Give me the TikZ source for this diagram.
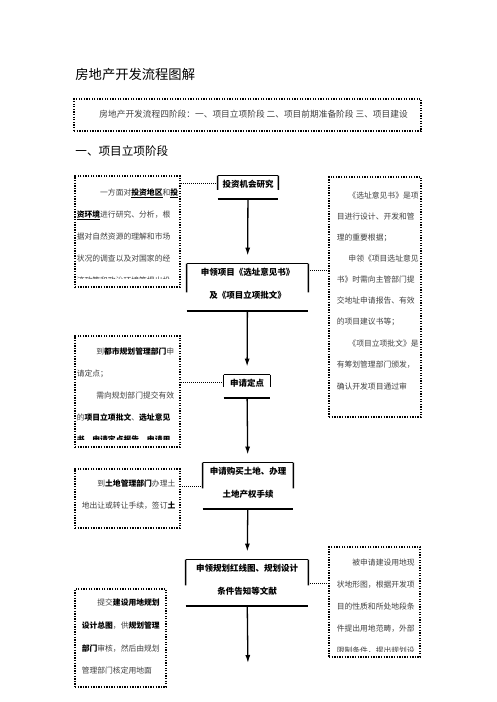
\documentclass[tikz,border=0pt]{standalone}
\usepackage{fontspec}
\setmainfont{Noto Sans CJK SC}
\usetikzlibrary{arrows.meta,calc,fit}

\newcommand\notefont{\fontsize{7.8}{22}\selectfont}
\newcommand\stepfont{\fontsize{8.5}{23}\selectfont\bfseries}
\newcommand\lsk[1]{\setlength{\baselineskip}{#1pt}}
\newcommand\bd[1]{\textcolor{black}{\bfseries #1}}
\newcommand\stepframe[2]{%
  \draw[line width=0.8pt] (#1.north west) -- (#1.north east);
  \draw[line width=1.6pt] (#1.north west) -- ($(#1.north west)!#2!(#1.south west)$);
  \draw[line width=1.6pt] (#1.north east) -- ($(#1.north east)!#2!(#1.south east)$);
  \draw[line width=2pt] (#1.south west) -- (#1.south east);}

\tikzset{every picture/.style={line width=0.8pt}}
\tikzset{
  notebox/.style={draw, line width=1.3pt, dash pattern=on 1.3pt off 1.3pt, inner sep=0pt},
  notetext/.style={anchor=base west, inner sep=0pt, text width=110pt, align=left, font=\notefont, text=black!75},
  stepbox/.style={inner sep=0pt, align=center, font=\stepfont},
  link/.style={line width=0.9pt, dash pattern=on 1pt off 1pt},
  flow/.style={line width=1.3pt, -{Latex[length=8pt,width=5pt]}, shorten >=8pt},
}

\begin{document}
\begin{tikzpicture}[x=1pt,y=1pt,yscale=-1]
\useasboundingbox (0,0) rectangle (496,702);

% title and overview
\node[anchor=west, inner sep=0pt, font=\fontsize{13.3}{16}\selectfont] (title) at (75,74) {房地产开发流程图解};
\node[notebox, fit={(74,99) (421,131)}] (intro) {};
\node[anchor=west, inner sep=0pt, font=\fontsize{8.7}{10}\selectfont, text=black!75] (introtxt) at (99,114) {房地产开发流程四阶段：一、项目立项阶段\ 二、项目前期准备阶段\ 三、项目建设};
\node[anchor=west, inner sep=0pt, font=\fontsize{11.6}{14}\selectfont] (stage) at (75,151) {一、项目立项阶段};

% steps
\node[stepbox, fit={(218,176) (278,199)}] (step1) {投资机会研究};
\node[stepbox, fit={(187,264) (308,311)}] (step2) {申领项目《选址意见书》\\及《项目立项批文》};
\node[stepbox, fit={(224,375) (270,398)}] (step3) {申请定点};
\node[stepbox, fit={(203,463) (293,509)}] (step4) {申请购买土地、办理\\土地产权手续};
\node[stepbox, fit={(186,560) (308,606)}] (step5) {申领规划红线图、规划设计\\条件告知等文献};
\coordinate (step6) at (248,671);
\stepframe{step1}{0.6}
\stepframe{step2}{0.6}
\stepframe{step3}{0.5}
\stepframe{step4}{0.55}
\stepframe{step5}{0.55}

\draw[flow] (step1) -- (step2);
\draw[flow] (step2) -- (step3);
\draw[flow] (step3) -- (step4);
\draw[flow] (step4) -- (step5);
\draw[flow] (step5) -- (step6);

% notes
\node[notebox, fit={(75,176) (180,287)}] (note1) {};
\begin{scope}
\clip (note1.north west) rectangle ($(note1.south east)+(0,-9)$);
\node[notetext] (note1txt) at ($(note1.north west)+(2,20)$) {\lsk{22}\hspace*{3em}一方面对\bd{\underline{投资地区}}和\bd{\underline{投}}\\
\bd{\underline{资环境}}进行研究、分析，根\\
据对自然资源的理解和市场\\
状况的调查以及对国家的经\\
济政策和政治环境等提出投};
\end{scope}

\node[notebox, fit={(329,177) (421,417)}] (note2) {};
\begin{scope}
\clip (note2.north west) rectangle (note2.south east);
\node[notetext] (note2txt) at ($(note2.north west)+(8,22)$) {\lsk{21.1}\hspace*{1.5em}《选址意见书》是项\\
目进行设计、开发和管\\
理的重要根据；\\
\hspace*{1.5em}申领《项目选址意见\\
书》时需向主管部门提\\
交地址申请报告、有效\\
的项目建议书等；\\
\hspace*{1.5em}《项目立项批文》是\\
有筹划管理部门颁发，\\
确认开发项目通过审};
\end{scope}

\node[notebox, fit={(75,336) (180,447)}] (note3) {};
\begin{scope}
\clip (note3.north west) rectangle ($(note3.south east)+(0,-8)$);
\node[notetext] (note3txt) at ($(note3.north west)+(2,19)$) {\lsk{22}\hspace*{2.5em}到\bd{都市规划管理部门}申\\
请定点；\\
\hspace*{2.5em}需向规划部门提交有效\\
的\bd{项目立项批文}、\bd{选址意见}\\
\bd{书}、\bd{申请定点报告}、\bd{申请用}};
\end{scope}

\node[notebox, fit={(75,469) (180,528)}] (note4) {};
\begin{scope}
\clip (note4.north west) rectangle (note4.south east);
\node[notetext] (note4txt) at ($(note4.north west)+(7,18)$) {\lsk{23}\hspace*{2em}到\bd{土地管理部门}办理土\\
地出让或转让手续，签订\bd{土}};
\end{scope}

\node[notebox, fit={(329,547) (420,657)}] (note5) {};
\begin{scope}
\clip (note5.north west) rectangle ($(note5.south east)+(0,-6)$);
\node[notetext] (note5txt) at ($(note5.north west)+(8,19)$) {\lsk{22}\hspace*{2em}被申请建设用地现\\
状地形图，根据开发项\\
目的性质和所处地段条\\
件提出用地范畴，外部\\
限制条件，提出规划设};
\end{scope}

\node[notebox, fit={(75,589) (166,687)}] (note6) {};
\begin{scope}
\clip (note6.north west) rectangle (note6.south east);
\node[notetext] (note6txt) at ($(note6.north west)+(7,17)$) {\lsk{23}\hspace*{2em}提交\bd{建设用地规划}\\
\bd{设计总图}，供\bd{规划管理}\\
\bd{部门}审核，然后由规划\\
管理部门核定用地面};
\end{scope}

% links
\draw[link] (step1.172) -- (step1.172 -| note1.east);
\draw[link] (step2.16) -- (step2.16 -| note2.west);
\draw[link] (step3.169) -- (step3.169 -| note3.east);
\draw[link] (step4.west) -- (step4.west -| note4.east);
\draw[link] (step5.east) -- (step5.east -| note5.west);
\end{tikzpicture}
\end{document}
